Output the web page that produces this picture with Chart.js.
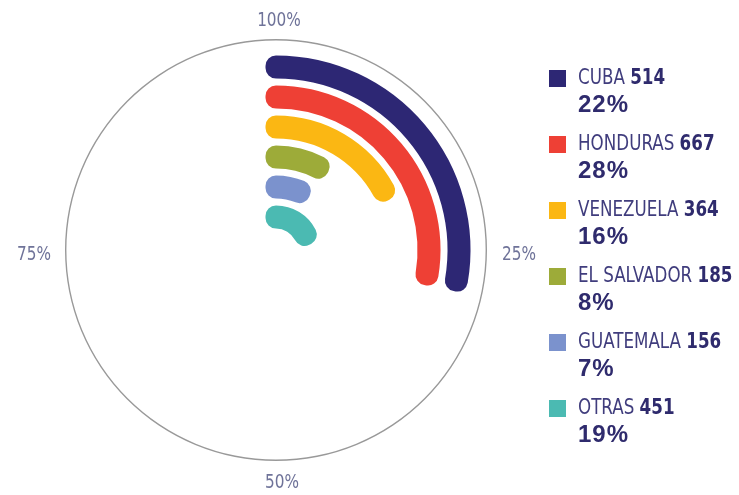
<!DOCTYPE html>
<html><head><meta charset="utf-8">
<script src="https://cdn.jsdelivr.net/npm/chart.js@4"></script>
<style>
html,body{margin:0;padding:0;background:#fff;}
#wrap{position:relative;width:739px;height:495px;overflow:hidden;}
#c{position:absolute;left:0;top:0;}
#legend{position:absolute;left:549px;top:64px;}
.item{position:relative;height:66px;}
.sw{position:absolute;left:0;top:6px;width:17px;height:17px;}
.l1{padding-left:29px;height:26px;line-height:26px;white-space:nowrap;}
.l1 span{display:inline-block;font-size:22px;color:#403d7d;transform:scaleX(0.845);transform-origin:0 50%;font-family:'Liberation Sans Narrow','DejaVu Sans Condensed','Arial Narrow',sans-serif;}
.l1 b{color:#2f2b6d;}
.l2{padding-left:29px;height:28px;line-height:28px;font-size:24px;letter-spacing:1px;font-weight:bold;color:#2f2b6d;font-family:'Liberation Sans','Arial',sans-serif;}
</style>
</head><body>
<div id="wrap"><canvas id="c" width="739" height="495"></canvas><div id="legend"></div></div>
<script>
const categories = ['CUBA','HONDURAS','VENEZUELA','EL SALVADOR','GUATEMALA','OTRAS'];
const counts = [514, 667, 364, 185, 156, 451];
const shares = [22, 28, 16, 8, 7, 19];               // legend percentages
const arcShares = [27.7, 27.6, 17, 7.6, 6.2, 17.5];  // arc extent as drawn (% of full circle)
const quarterLabels = ['100%', '25%', '50%', '75%'];
const colors = ['#2d2774', '#ee4035', '#fbb713', '#9dab39', '#7b92cd', '#4bbab2'];

// layout constants (px)
const R = 211, CIRCLE_W = 1.4, FIRST = 183, PITCH = 30, FILL = 2, BORDER = 21;
const CX = 276, CY = 250;

const datasets = [{
  label: 'circle', data: [100], backgroundColor: ['#999999'], borderWidth: 0, hoverBorderWidth: 0, weight: CIRCLE_W
}];
let prev = R - CIRCLE_W;
categories.forEach((cat, i) => {
  const outer = FIRST - PITCH * i + FILL / 2;
  datasets.push({label: 'gap' + i, data: [100], backgroundColor: ['rgba(0,0,0,0)'], borderWidth: 0, hoverBorderWidth: 0, weight: prev - outer});
  datasets.push({
    label: cat,
    data: [arcShares[i], 100 - arcShares[i]],
    backgroundColor: [colors[i], 'rgba(0,0,0,0)'],
    borderColor: [colors[i], 'rgba(0,0,0,0)'],
    borderWidth: [BORDER, 0],
    hoverBorderWidth: [BORDER, 0],
    borderJoinStyle: 'round',
    borderAlign: 'center',
    weight: FILL
  });
  prev = outer - FILL;
});

function narrowText(ctx, text, x, y, align) {
  const sx = 0.85;
  const w = ctx.measureText(text).width * sx;
  let left = x;
  if (align === 'center') left = x - w / 2;
  else if (align === 'right') left = x - w;
  ctx.save();
  ctx.translate(left, y);
  ctx.scale(sx, 1);
  ctx.textAlign = 'left';
  ctx.fillText(text, 0, 0);
  ctx.restore();
}

const quarterPlugin = {
  id: 'quarters',
  afterDatasetsDraw(chart) {
    const arc = chart.getDatasetMeta(0).data[0];
    const {x, y, outerRadius} = arc.getProps(['x', 'y', 'outerRadius'], true);
    const ctx = chart.ctx;
    ctx.save();
    ctx.font = '20px "Liberation Sans Narrow", "DejaVu Sans Condensed", sans-serif';
    ctx.fillStyle = '#6f7399';
    ctx.textBaseline = 'middle';
    narrowText(ctx, quarterLabels[0], x + 3, y - outerRadius - 18, 'center');
    narrowText(ctx, quarterLabels[1], x + outerRadius + 15, y + 5, 'left');
    narrowText(ctx, quarterLabels[2], x + 6, y + outerRadius + 22, 'center');
    narrowText(ctx, quarterLabels[3], x - outerRadius - 14, y + 5, 'right');
    ctx.restore();
  }
};

new Chart(document.getElementById('c'), {
  type: 'doughnut',
  data: {labels: ['value', 'rest'], datasets},
  options: {
    responsive: false,
    animation: false,
    events: [],
    cutout: prev,
    layout: {padding: {left: CX - R, top: CY - R, right: 739 - CX - R, bottom: 495 - CY - R}},
    plugins: {legend: {display: false}, tooltip: {enabled: false}}
  },
  plugins: [quarterPlugin]
});

const lg = document.getElementById('legend');
categories.forEach((cat, i) => {
  const it = document.createElement('div'); it.className = 'item';
  const sw = document.createElement('div'); sw.className = 'sw'; sw.style.background = colors[i];
  const l1 = document.createElement('div'); l1.className = 'l1';
  const sp = document.createElement('span');
  sp.appendChild(document.createTextNode(cat + ' '));
  const b = document.createElement('b'); b.textContent = counts[i]; sp.appendChild(b);
  l1.appendChild(sp);
  const l2 = document.createElement('div'); l2.className = 'l2'; l2.textContent = shares[i] + '%';
  it.appendChild(sw); it.appendChild(l1); it.appendChild(l2); lg.appendChild(it);
});
</script>
</body></html>
